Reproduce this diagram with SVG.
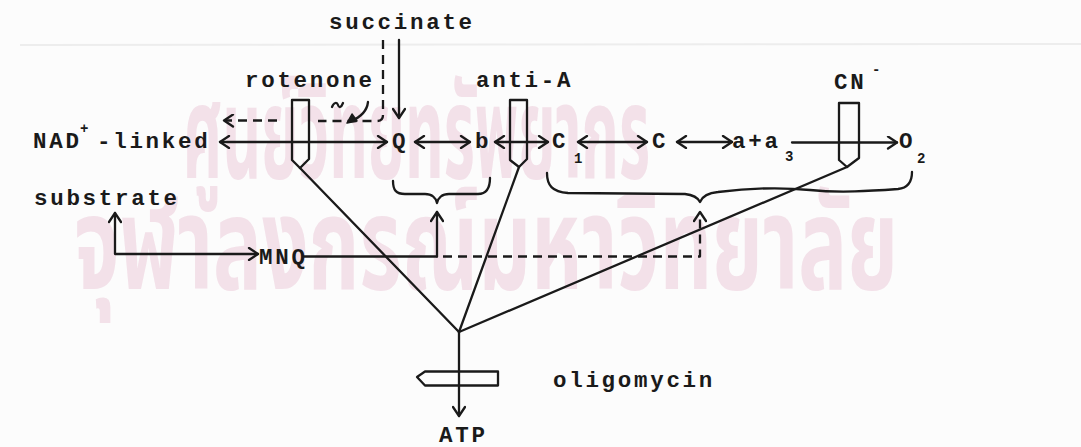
<svg xmlns="http://www.w3.org/2000/svg" width="1081" height="447" viewBox="0 0 1081 447">
<style>
.t{font-family:"Liberation Mono","DejaVu Sans Mono",monospace;font-weight:bold;font-size:22.5px;letter-spacing:2.7px;fill:#1a1a1a}
.s{font-family:"Liberation Mono","DejaVu Sans Mono",monospace;font-weight:bold;font-size:14px;fill:#1a1a1a}
.ln{fill:none;stroke:#1a1a1a;stroke-width:2.3;stroke-linecap:round;stroke-linejoin:round}
.da{stroke-dasharray:9 6;stroke-linecap:butt}
.box{fill:none;stroke:#1a1a1a;stroke-width:2.3;stroke-linejoin:round}
.wm{font-family:"Noto Sans Thai","Noto Sans","DejaVu Sans",sans-serif;font-weight:bold;fill:#f3e1e9}
</style>
<defs>
<marker id="ah" markerWidth="14" markerHeight="14" refX="11" refY="7" orient="auto-start-reverse" markerUnits="userSpaceOnUse">
<path d="M2,1 L11,7 L2,13" fill="none" stroke="#1a1a1a" stroke-width="2.3" stroke-linecap="round" stroke-linejoin="round"/>
</marker>
</defs>
<rect x="0" y="0" width="1081" height="447" fill="#fcfcfc"/>
<g id="watermark">
<line x1="20" y1="45" x2="1081" y2="44" stroke="#ededed" stroke-width="2"/>
<text class="wm" x="183" y="178" font-size="130" textLength="467" lengthAdjust="spacingAndGlyphs">ศูนย์วิทยทรัพยากร</text>
<text class="wm" x="74" y="289" font-size="130" textLength="824" lengthAdjust="spacingAndGlyphs">จุฬาลงกรณ์มหาวิทยาลัย</text>
</g>
<g id="connectors">
<line class="ln" x1="220" y1="142" x2="387" y2="142" marker-start="url(#ah)" marker-end="url(#ah)"/>
<line class="ln" x1="415" y1="142" x2="470" y2="142" marker-start="url(#ah)" marker-end="url(#ah)"/>
<line class="ln" x1="495" y1="142" x2="548" y2="142" marker-start="url(#ah)" marker-end="url(#ah)"/>
<line class="ln" x1="578" y1="142" x2="647" y2="142" marker-start="url(#ah)" marker-end="url(#ah)"/>
<line class="ln" x1="677" y1="142" x2="732" y2="142" marker-start="url(#ah)" marker-end="url(#ah)"/>
<line class="ln" x1="792" y1="142.5" x2="897" y2="142.5" marker-end="url(#ah)"/>
<line class="ln" x1="399" y1="40" x2="399" y2="118" marker-end="url(#ah)"/>
<path class="ln da" d="M383,40 V115 Q383,121 377,121 H318"/>
<path class="ln da" d="M277,120.5 H224" marker-end="url(#ah)"/>
<path class="ln" d="M368,102 C367,111 361,117 351,121"/>
<path d="M347,123 L352,114 L357,121 Z" fill="#1a1a1a" stroke="#1a1a1a" stroke-width="1.5" stroke-linejoin="round"/>
<path class="ln" d="M332,107 C334,102 337,102 338,105 C339,108 341,108 343,103"/>
<path class="ln" d="M300,168 L459,332"/>
<path class="ln" d="M519,167 L459,332"/>
<path class="ln" d="M847,167 L459,332"/>
<path class="ln" d="M459,332 V416" marker-end="url(#ah)"/>
<path class="ln" d="M115,213 V254 H258" marker-start="url(#ah)" marker-end="url(#ah)"/>
<path class="ln" d="M304,256.5 H437"/>
<path class="ln" d="M437,256.5 V212" marker-end="url(#ah)"/>
<path class="ln da" d="M443,256.5 H700 V212" marker-end="url(#ah)"/>
<path class="ln" d="M393,181 C393,190 396,194 405,194 L425,194 C432,194 436,198 437,203 C438,198 442,194 449,194 L478,194 C486,194 490,188 490,178"/>
<path class="ln" d="M547,173 C547,185 552,192 568,193 L685,194 C694,195 698,198 700,202 C702,197 707,193 718,192 C750,188 780,187 810,190 C840,193 870,191 898,189 C908,188 912,182 912,172"/>
</g>
<g id="rotenone">
<path class="box" d="M292,100 H309 V159 L300,168 L292,160 Z"/>
<text class="t" x="245" y="87">rotenone</text>
</g>
<g id="antiA">
<path class="box" d="M510,100 H527 V159 L519,167 L510,160 Z"/>
<text class="t" x="476" y="87">anti-A</text>
</g>
<g id="cyanide">
<path class="box" d="M839,103 H859 V158 L847,167 L839,160 Z"/>
<text class="t" x="834" y="89">CN</text>
<text class="s" x="872" y="74">-</text>
</g>
<g id="oligomycin">
<path class="box" d="M425,371.5 H498 V385.5 H425 L417,377 Z"/>
<text class="t" x="553" y="387">oligomycin</text>
</g>
<g id="succinate"><text class="t" x="329" y="28.5">succinate</text></g>
<g id="nad">
<text class="t" x="33" y="148">NAD</text>
<text class="s" x="80" y="133">+</text>
<text class="t" x="97" y="148">-linked</text>
</g>
<g id="Q"><text class="t" x="392" y="148">Q</text></g>
<g id="b"><text class="t" x="475" y="148">b</text></g>
<g id="c1"><text class="t" x="552" y="148">C</text><text class="s" x="574" y="163">1</text></g>
<g id="c"><text class="t" x="652" y="148">C</text></g>
<g id="aa3"><text class="t" x="732" y="148">a+a</text><text class="s" x="785" y="161">3</text></g>
<g id="o2"><text class="t" x="899" y="148">O</text><text class="s" x="917" y="163">2</text></g>
<g id="substrate"><text class="t" x="34" y="205">substrate</text></g>
<g id="mnq"><text class="t" x="259" y="264">MNQ</text></g>
<g id="atp"><text class="t" x="439" y="442">ATP</text></g>
</svg>
